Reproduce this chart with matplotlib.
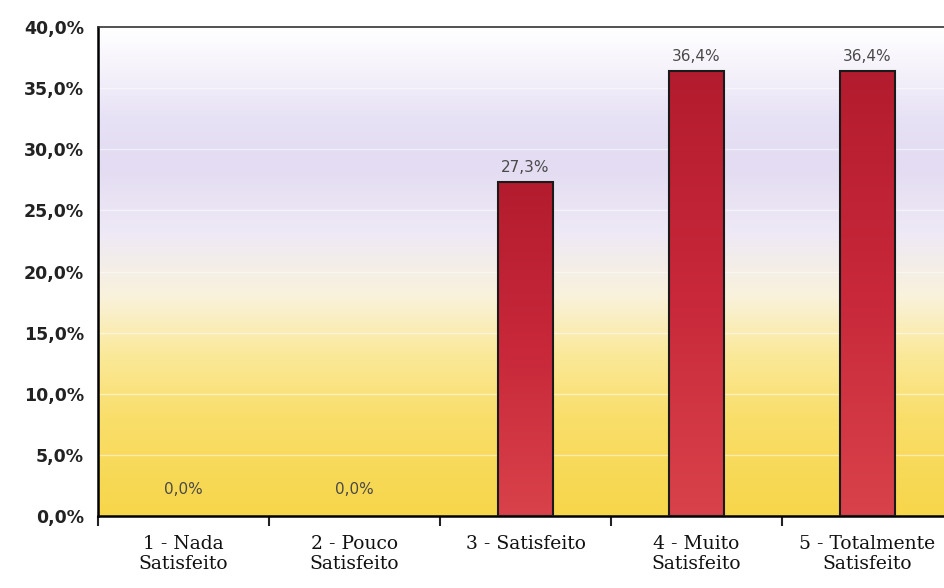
import numpy as np
import matplotlib
matplotlib.use("Agg")
import matplotlib.pyplot as plt
from matplotlib.colors import LinearSegmentedColormap
from matplotlib.ticker import FixedLocator, FuncFormatter

categories = ["1 - Nada\nSatisfeito", "2 - Pouco\nSatisfeito", "3 - Satisfeito",
              "4 - Muito\nSatisfeito", "5 - Totalmente\nSatisfeito"]
values = [0.0, 0.0, 27.3, 36.4, 36.4]
y_ticks = [0, 5, 10, 15, 20, 25, 30, 35, 40]


def pct(v):
    return f"{v:.1f}%".replace(".", ",")


fig = plt.figure(figsize=(9.45, 5.88), dpi=100)
ax = fig.add_axes([98 / 945, 72 / 588, 855 / 945, 489 / 588])

n = len(categories)
x = np.arange(n)
ax.set_xlim(-0.5, n - 0.5)
ax.set_ylim(0, 40)

# background gradient (yellow at the bottom, lavender band, white at the top)
bg = LinearSegmentedColormap.from_list("bg", [
    (0.00, "#f7d64a"), (0.20, "#f9de6a"), (0.33, "#fbe99a"),
    (0.45, "#f9f2dc"), (0.58, "#eee9f6"), (0.72, "#e3dcf2"),
    (0.82, "#e8e2f6"), (0.90, "#f4f0fa"), (1.00, "#ffffff")])
grad = np.linspace(0, 1, 256).reshape(-1, 1)
ax.imshow(grad, cmap=bg, aspect="auto", origin="lower",
          extent=(-0.5, n - 0.5, 0, 40), zorder=0)

for t in y_ticks[1:-1]:
    ax.axhline(t, color="white", lw=1.0, alpha=0.5, zorder=1)

edge_w = [1.5 if v > 0 else 0 for v in values]
bars = ax.bar(x, values, width=0.32, color="none", edgecolor="#1a1a1a",
              linewidth=edge_w, zorder=3)
bar_cmap = LinearSegmentedColormap.from_list("bar", ["#d9424a", "#c8283a", "#b31c2e"])
for b in bars:
    h = b.get_height()
    if h <= 0:
        continue
    im = ax.imshow(grad, cmap=bar_cmap, aspect="auto", origin="lower",
                   extent=(b.get_x(), b.get_x() + b.get_width(), 0, h), zorder=2)
    im.set_clip_path(b)

for xi, v in zip(x, values):
    off = 14 if v == 0 else 5
    ax.annotate(pct(v), (xi, v), xytext=(0, off), textcoords="offset points",
                ha="center", va="bottom", fontsize=11, color="#4a4a4a")

ax.set_xticks(x)
ax.set_xticklabels(categories, fontsize=13.5, family="DejaVu Serif",
                   color="#111111", linespacing=1.1)
ax.tick_params(axis="x", which="major", length=0, pad=14)
ax.xaxis.set_minor_locator(FixedLocator(np.arange(-0.5, n, 1.0)))
ax.tick_params(axis="x", which="minor", length=7, width=1.5, color="#222222")

ax.set_yticks(y_ticks)
ax.yaxis.set_major_formatter(FuncFormatter(lambda v, _: pct(v)))
ax.tick_params(axis="y", length=0, pad=10, labelsize=12.5)
for lab in ax.get_yticklabels():
    lab.set_fontweight("bold")
    lab.set_color("#222222")

ax.spines["left"].set_linewidth(1.8)
ax.spines["bottom"].set_linewidth(1.8)
ax.spines["top"].set_linewidth(1.2)
ax.spines["top"].set_color("#333333")
ax.spines["right"].set_visible(False)

fig.savefig("out.png", dpi=100)
